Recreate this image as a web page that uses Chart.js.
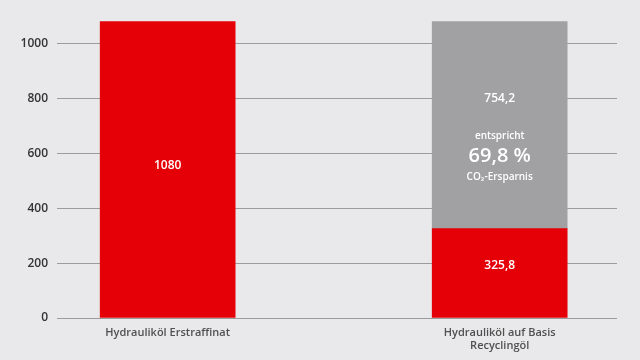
<!DOCTYPE html>
<html lang="de">
<head>
<meta charset="utf-8">
<title>CO2-Vergleich Hydrauliköl</title>
<script src="https://cdn.jsdelivr.net/npm/chart.js@4.4.0/dist/chart.umd.min.js"></script>
<style>
    html, body { margin: 0; padding: 0; background: #e9e9eb; }
    #wrap { width: 640px; height: 360px; position: relative; }
</style>
</head>
<body>
<div id="wrap"><canvas id="chart1"></canvas></div>
<script>
// Kategorien und ihre Position auf der x-Achse
const categories = ['Hydrauliköl Erstraffinat', ['Hydrauliköl auf Basis', 'Recyclingöl']];
const categoryPos = [1, 4];
// Werte
const emissionValues = [1080, 325.8];
const savingValues = [null, 754.2];
const yTicks = [0, 200, 400, 600, 800, 1000];
const savingNote = ['entspricht', '69,8 %', 'CO₂-Ersparnis'];

const RED = '#e40006';
const GREY = '#a1a1a4';
const FONT = '"Open Sans", sans-serif';

function formatDe(v) {
    return String(v).replace('.', ',');
}

function toPoints(values) {
    return values.map(function(v, i) { return { x: categoryPos[i], y: v }; });
}

// Werte in die Balken schreiben
const barLabels = {
    id: 'barLabels',
    afterDatasetsDraw(chart) {
        const ctx = chart.ctx;
        ctx.save();
        ctx.fillStyle = '#ffffff';
        ctx.textAlign = 'center';
        ctx.textBaseline = 'middle';

        chart.data.datasets.forEach(function(ds, di) {
            const meta = chart.getDatasetMeta(di);
            meta.data.forEach(function(bar, i) {
                const v = ds.data[i].y;
                if (v === null) return;
                const top = Math.min(bar.y, bar.base);
                const bottom = Math.max(bar.y, bar.base);
                if (di === 0) {
                    ctx.font = '600 12px ' + FONT;
                    const shift = i === 0 ? -4 : -7;
                    ctx.fillText(formatDe(v), bar.x, (top + bottom) / 2 + shift);
                } else {
                    ctx.font = '600 12px ' + FONT;
                    ctx.fillText(formatDe(v), bar.x, top + 77);
                    ctx.font = '600 10px ' + FONT;
                    ctx.fillText(savingNote[0], bar.x, top + 114);
                    ctx.font = '600 20px ' + FONT;
                    ctx.fillText(savingNote[1], bar.x, top + 135);
                    ctx.font = '600 10px ' + FONT;
                    ctx.fillText(savingNote[2], bar.x, top + 155);
                }
            });
        });
        ctx.restore();
    }
};

window.onload = function() {
    try {
        const ctx1 = document.getElementById('chart1');
        new Chart(ctx1, {
            type: 'bar',
            data: {
                datasets: [{
                    label: 'Erstraffinat / Recycling',
                    data: toPoints(emissionValues),
                    backgroundColor: RED,
                    barThickness: 135
                }, {
                    label: 'Ersparnis',
                    data: toPoints(savingValues),
                    backgroundColor: GREY,
                    barThickness: 135
                }]
            },
            options: {
                responsive: true,
                maintainAspectRatio: false,
                animation: false,
                layout: { padding: { top: 14, right: 23, bottom: 0, left: 0 } },
                plugins: {
                    legend: { display: false },
                    tooltip: { enabled: false }
                },
                scales: {
                    x: {
                        type: 'linear',
                        stacked: true,
                        offset: false,
                        min: 0,
                        max: 5.06,
                        afterBuildTicks: function(scale) {
                            scale.ticks = categoryPos.map(function(p) { return { value: p }; });
                        },
                        grid: { display: false, drawTicks: false },
                        border: { display: false },
                        ticks: {
                            autoSkip: false,
                            maxRotation: 0,
                            padding: 8,
                            color: '#505050',
                            font: { family: FONT, size: 11, weight: '600' },
                            callback: function(value) {
                                return categories[categoryPos.indexOf(value)];
                            }
                        },
                        afterFit: function(scale) { scale.height = 42; }
                    },
                    y: {
                        stacked: true,
                        min: 0,
                        max: 1100,
                        afterBuildTicks: function(scale) {
                            scale.ticks = yTicks.map(function(v) { return { value: v }; });
                        },
                        grid: { color: '#9c9c9e', lineWidth: 1, drawTicks: false },
                        border: { display: false },
                        ticks: {
                            padding: 9,
                            color: '#333333',
                            font: { family: FONT, size: 12, weight: '600' },
                            callback: function(value) { return String(value); }
                        },
                        afterFit: function(scale) { scale.width = 57; }
                    }
                }
            },
            plugins: [barLabels]
        });
        console.log("Graphique initialisé");
    } catch (error) {
        console.error("Erreur lors de l'initialisation du graphique:", error);
    }
};
</script>
</body>
</html>
